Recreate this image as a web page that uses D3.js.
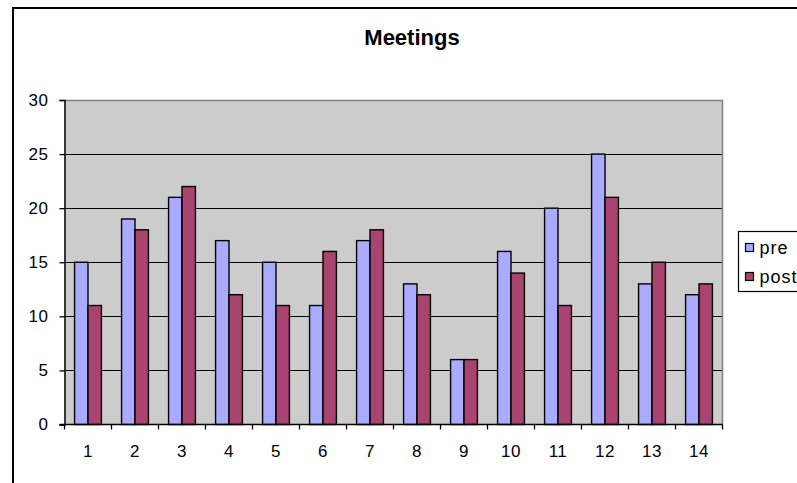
<!DOCTYPE html>
<html>
<head>
<meta charset="utf-8">
<script src="https://cdn.jsdelivr.net/npm/d3@7/dist/d3.min.js"></script>
<style>
  html, body { margin: 0; padding: 0; background: #fff; }
  svg { display: block; font-family: "Liberation Sans", Arial, sans-serif; }
</style>
</head>
<body>
<svg id="chart" width="797" height="483"></svg>
<script>
// Meetings per participant, before and after
const categories = ["1","2","3","4","5","6","7","8","9","10","11","12","13","14"];
const preValues  = [15, 19, 21, 17, 15, 11, 17, 13, 6, 16, 20, 25, 13, 12];
const postValues = [11, 18, 22, 12, 11, 16, 18, 12, 6, 14, 11, 21, 15, 13];
const seriesNames = ["pre", "post"];
const yTicks = [0, 5, 10, 15, 20, 25, 30];

const colors = { pre: "#aaaaff", post: "#a8446f" };

const svg = d3.select("#chart");
const plot = { left: 64.5, right: 722.5, top: 100, bottom: 424.5 };

// outer chart frame (runs off the right and bottom edges)
svg.append("rect")
  .attr("x", 13).attr("y", 8)
  .attr("width", 820).attr("height", 520)
  .attr("fill", "#fff").attr("stroke", "#000").attr("stroke-width", 2);

const x = d3.scaleBand().domain(categories).range([plot.left, plot.right]).padding(0);
const gap = 1.5; // gap width relative to one bar
const barW = x.bandwidth() / (seriesNames.length + gap);
const inset = x.bandwidth() * gap / (2 * (seriesNames.length + gap));
const xs = d3.scaleBand().domain(seriesNames).range([inset, x.bandwidth() - inset]);
const y = d3.scaleLinear().domain([0, 30]).range([plot.bottom, plot.top]);

// plot background
svg.append("rect")
  .attr("x", plot.left).attr("y", plot.top)
  .attr("width", plot.right - plot.left).attr("height", plot.bottom - plot.top)
  .attr("fill", "#cccccc");

// gridlines
svg.append("g").selectAll("line")
  .data(yTicks.filter(d => d > 0 && d < 30))
  .join("line")
  .attr("x1", plot.left).attr("x2", plot.right)
  .attr("y1", d => Math.round(y(d)) + 0.5).attr("y2", d => Math.round(y(d)) + 0.5)
  .attr("stroke", "#000").attr("stroke-width", 1.2);

// plot border top/right
svg.append("path")
  .attr("d", `M${plot.left},${plot.top + 0.5}H${plot.right}V${plot.bottom}`)
  .attr("fill", "none").attr("stroke", "#808080").attr("stroke-width", 1.5);

// bars
const rows = categories.map((c, i) => ({ cat: c, pre: preValues[i], post: postValues[i] }));
const groups = svg.append("g").selectAll("g")
  .data(rows).join("g")
  .attr("transform", d => `translate(${x(d.cat)},0)`);
groups.selectAll("rect")
  .data(d => seriesNames.map(s => ({ s, v: d[s] })))
  .join("rect")
  .attr("x", d => xs(d.s))
  .attr("y", d => y(d.v))
  .attr("width", barW)
  .attr("height", d => y(0) - y(d.v))
  .attr("fill", d => colors[d.s])
  .attr("stroke", "#000").attr("stroke-width", 1.4);

// y axis
const yAxis = d3.axisLeft(y).tickValues(yTicks).tickSize(5).tickPadding(11);
const gy = svg.append("g").attr("transform", `translate(${plot.left},0)`).call(yAxis);
gy.select(".domain").attr("stroke", "#000").attr("stroke-width", 1.5);
gy.selectAll(".tick line").attr("stroke", "#000").attr("stroke-width", 1.3);
gy.selectAll("text").attr("font-size", 17).attr("fill", "#000")
  .attr("letter-spacing", 0.5)
  .attr("font-family", "Liberation Sans, Arial, sans-serif");

// x axis: ticks sit between categories
const xAxis = d3.axisBottom(x).tickSize(0).tickPadding(20);
const gx = svg.append("g").attr("transform", `translate(0,${plot.bottom})`).call(xAxis);
gx.select(".domain").remove();
gx.selectAll("text").attr("font-size", 17).attr("fill", "#000")
  .attr("letter-spacing", 0.5)
  .attr("font-family", "Liberation Sans, Arial, sans-serif");
svg.append("line")
  .attr("x1", plot.left - 5).attr("x2", plot.right)
  .attr("y1", plot.bottom).attr("y2", plot.bottom)
  .attr("stroke", "#000").attr("stroke-width", 1.5);
svg.append("g").selectAll("line")
  .data(d3.range(categories.length + 1))
  .join("line")
  .attr("x1", i => plot.left + i * x.bandwidth())
  .attr("x2", i => plot.left + i * x.bandwidth())
  .attr("y1", plot.bottom).attr("y2", plot.bottom + 5)
  .attr("stroke", "#000").attr("stroke-width", 1.3);

// title
svg.append("text")
  .attr("x", 412).attr("y", 45)
  .attr("text-anchor", "middle")
  .attr("font-size", 22).attr("font-weight", "bold")
  .text("Meetings");

// legend
const lg = svg.append("g").attr("transform", "translate(738.5,231.5)");
lg.append("rect").attr("width", 80).attr("height", 60)
  .attr("fill", "#fff").attr("stroke", "#000").attr("stroke-width", 1.2);
seriesNames.forEach((s, i) => {
  lg.append("rect")
    .attr("x", 7).attr("y", 12 + i * 29)
    .attr("width", 8).attr("height", 8)
    .attr("fill", colors[s]).attr("stroke", "#000").attr("stroke-width", 1.2);
  lg.append("text")
    .attr("x", 21).attr("y", 22 + i * 29)
    .attr("font-size", 18)
    .attr("letter-spacing", 1)
    .text(s);
});
</script>
</body>
</html>
